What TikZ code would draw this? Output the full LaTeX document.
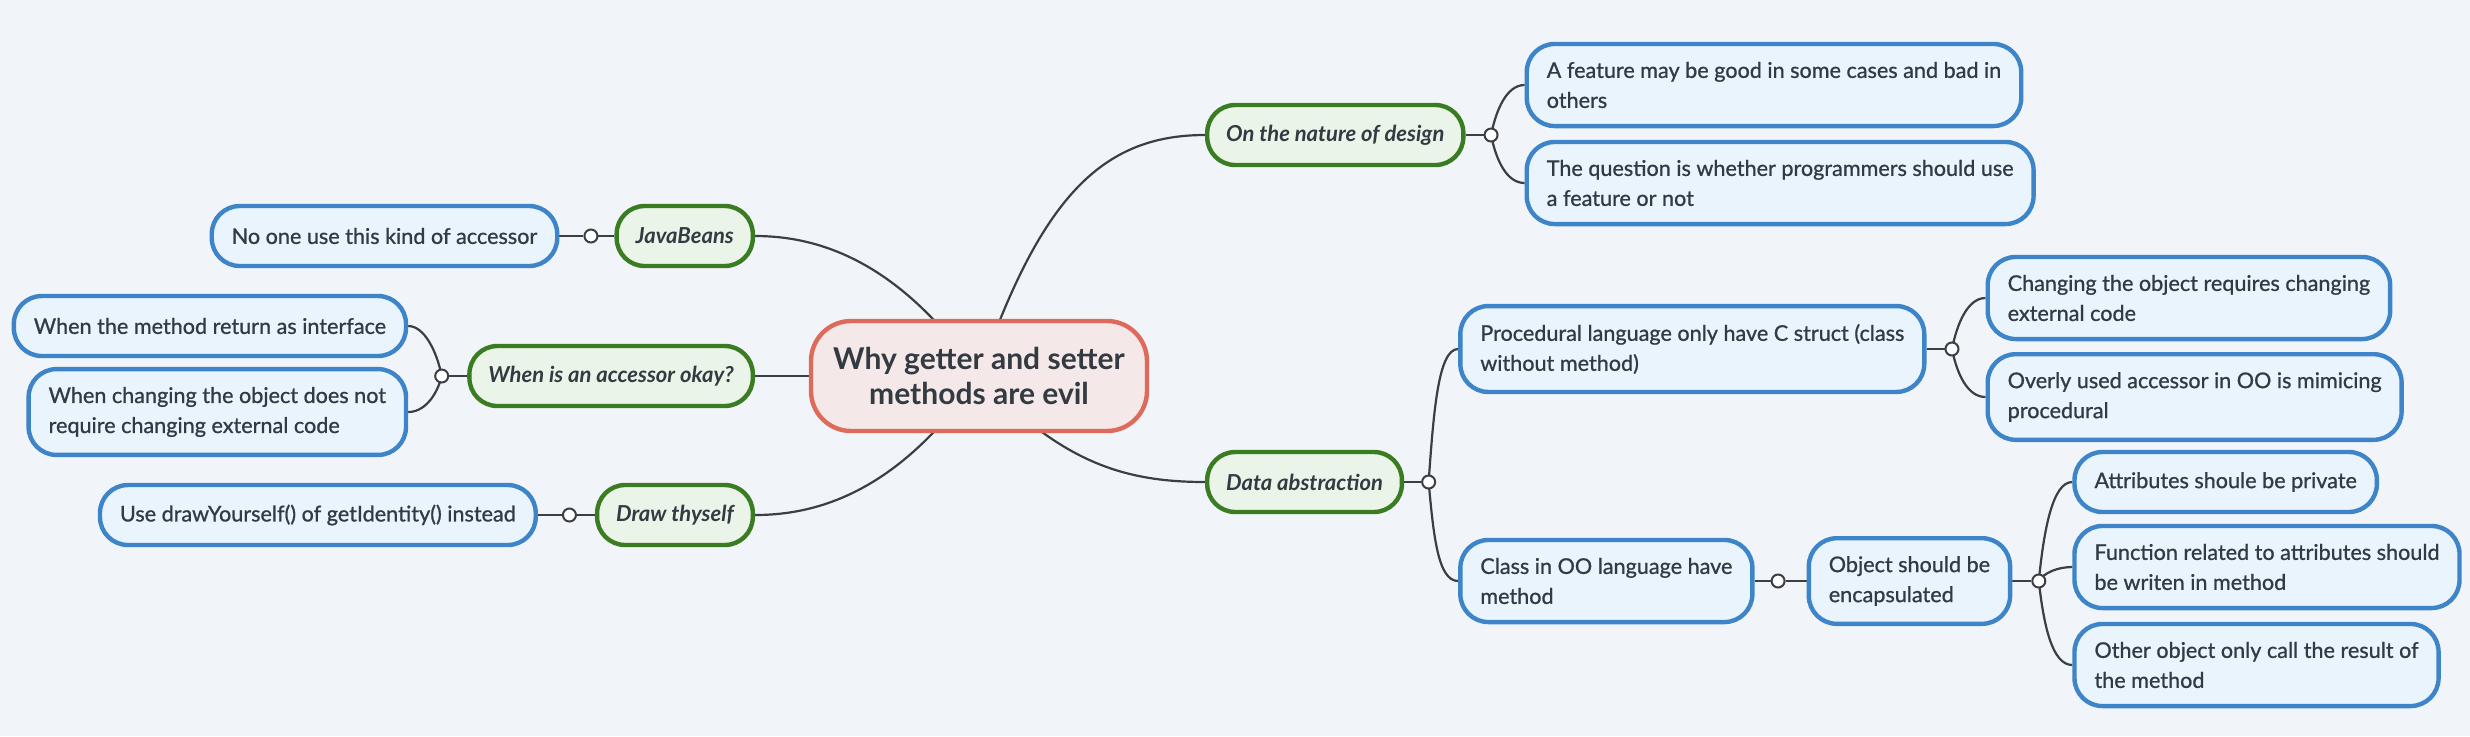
\documentclass[tikz,border=0pt]{standalone}
\usepackage{fontspec}
\setmainfont{Lato}
\newfontfamily\leaffont{Lato}[FakeBold=0.9]
\usetikzlibrary{positioning}
\definecolor{bgcol}{HTML}{F1F5F9}
\definecolor{inkcol}{HTML}{333A42}
\definecolor{linecol}{HTML}{3A3F45}
\definecolor{leafline}{HTML}{3D84C8}
\definecolor{leaffill}{HTML}{E9F4FD}
\definecolor{topicline}{HTML}{3A7C22}
\definecolor{topicfill}{HTML}{EAF4E8}
\definecolor{rootline}{HTML}{DD6A5B}
\definecolor{rootfill}{HTML}{F4E8E8}
\pgfdeclarelayer{bg}
\pgfsetlayers{bg,main}
\begin{document}
\begin{tikzpicture}[
        x=0.5pt, y=-0.5pt,
        leaf/.style={draw=leafline, fill=leaffill, line width=2.2pt, rounded corners=14pt,
            align=left, text=inkcol, font=\leaffont\fontsize{10.8}{15}\selectfont,
            inner xsep=10pt, inner ysep=9pt, minimum height=30pt},
        topic/.style={draw=topicline, fill=topicfill, line width=2.2pt, rounded corners=14pt,
            text=inkcol, font=\fontsize{11}{15}\selectfont\bfseries\itshape,
            inner xsep=9.5pt, minimum height=30pt},
        rootbox/.style={draw=rootline, fill=rootfill, line width=2.2pt, rounded corners=20pt,
            align=center, text=inkcol, font=\fontsize{15}{17.5}\selectfont\bfseries,
            minimum width=168pt, minimum height=55pt},
        dot/.style={circle, draw=linecol, fill=white, line width=1pt, inner sep=0pt, minimum size=6.5pt},
        link/.style={draw=linecol, line width=1.1pt}
    ]
    \useasboundingbox (0,0) rectangle (2470,736);

    \node[rootbox] (root) at (979,376) {Why getter and setter\\methods are evil};

    % left side
    \node[topic, anchor=east] (java) at (755,236) {JavaBeans};
    \node[dot, left=8pt of java] (d1) {};
    \node[leaf, anchor=east, xshift=-12pt] (nouse) at (d1.west) {No one use this kind of accessor};

    \node[topic, anchor=east] (okay) at (755,376) {When is an accessor okay?};
    \node[dot, left=9pt of okay] (d2) {};
    \node[leaf, anchor=east, xshift=-13pt] (iface) at (d2.west |- 0,326) {When the method return as interface};
    \node[leaf, anchor=east, xshift=-13pt] (noext) at (d2.west |- 0,412) {When changing the object does not\\require changing external code};

    \node[topic, anchor=east] (thyself) at (755,515) {Draw thyself};
    \node[dot, left=9pt of thyself] (d3) {};
    \node[leaf, anchor=east, xshift=-12pt] (drawself) at (d3.west) {Use drawYourself() of getIdentity() instead};

    % right side
    \node[topic, anchor=west] (design) at (1205,135) {On the nature of design};
    \node[dot, right=9pt of design] (d4) {};
    \node[leaf, anchor=west, xshift=13pt] (goodbad) at (d4.east |- 0,85) {A feature may be good in some cases and bad in\\others};
    \node[leaf, anchor=west, xshift=13pt] (whether) at (d4.east |- 0,183) {The question is whether programmers should use\\a feature or not};

    \node[topic, anchor=west] (abstr) at (1205,482) {Data abstraction};
    \node[dot, right=8.5pt of abstr] (d5) {};
    \node[leaf, anchor=west, xshift=11pt] (proc) at (d5.east |- 0,349) {Procedural language only have C struct (class\\without method)};
    \node[leaf, anchor=west, xshift=11pt] (cls) at (d5.east |- 0,581) {Class in OO language have\\method};

    \node[dot, right=9pt of proc] (d6) {};
    \node[leaf, anchor=west, xshift=13pt] (extcode) at (d6.east |- 0,298) {Changing the object requires changing\\external code};
    \node[leaf, anchor=west, xshift=13pt] (mimic) at (d6.east |- 0,397) {Overly used accessor in OO is mimicing\\procedural};

    \node[dot, right=8pt of cls] (d7) {};
    \node[leaf, right=10.5pt of d7] (encap) {Object should be\\encapsulated};
    \node[dot, right=9.5pt of encap] (d8) {};
    \node[leaf, anchor=west, xshift=13pt] (private) at (d8.east |- 0,482) {Attributes shoule be private};
    \node[leaf, anchor=west, xshift=13pt] (funcs) at (d8.east |- 0,567) {Function related to attributes should\\be writen in method};
    \node[leaf, anchor=west, xshift=13pt] (result) at (d8.east |- 0,665) {Other object only call the result of\\the method};

    \begin{pgfonlayer}{bg}
        \fill[bgcol] (0,0) rectangle (2470,736);
        % main branches
        \draw[link] (root.center) .. controls (900,262) and (820,236) .. (java.east);
        \draw[link] (root.center) -- (okay.east);
        \draw[link] (root.center) .. controls (900,490) and (820,515) .. (thyself.east);
        \draw[link] (root.center) .. controls (1040,200) and (1100,135) .. (design.west);
        \draw[link] (root.center) .. controls (1060,460) and (1120,482) .. (abstr.west);
        % sub branches
        \draw[link] (java.west) -- (d1) -- (nouse.east);
        \draw[link] (okay.west) -- (d2);
        \draw[link] (d2.center) .. controls +(-5,-25) and +(16,0) .. (iface.east);
        \draw[link] (d2.center) .. controls +(-5,20) and +(16,0) .. (noext.east);
        \draw[link] (thyself.west) -- (d3) -- (drawself.east);
        \draw[link] (design.east) -- (d4);
        \draw[link] (d4.center) .. controls +(5,-25) and +(-18,0) .. (goodbad.west);
        \draw[link] (d4.center) .. controls +(5,25) and +(-18,0) .. (whether.west);
        \draw[link] (abstr.east) -- (d5);
        \draw[link] (d5.center) .. controls +(5,-70) and +(-20,0) .. (proc.west);
        \draw[link] (d5.center) .. controls +(5,55) and +(-20,0) .. (cls.west);
        \draw[link] (proc.east) -- (d6);
        \draw[link] (d6.center) .. controls +(5,-25) and +(-18,0) .. (extcode.west);
        \draw[link] (d6.center) .. controls +(5,25) and +(-18,0) .. (mimic.west);
        \draw[link] (cls.east) -- (d7) -- (encap.west);
        \draw[link] (encap.east) -- (d8);
        \draw[link] (d8.center) .. controls +(5,-50) and +(-20,0) .. (private.west);
        \draw[link] (d8.center) .. controls +(5,-8) and +(-15,0) .. (funcs.west);
        \draw[link] (d8.center) .. controls +(5,45) and +(-20,0) .. (result.west);
    \end{pgfonlayer}
\end{tikzpicture}
\end{document}
